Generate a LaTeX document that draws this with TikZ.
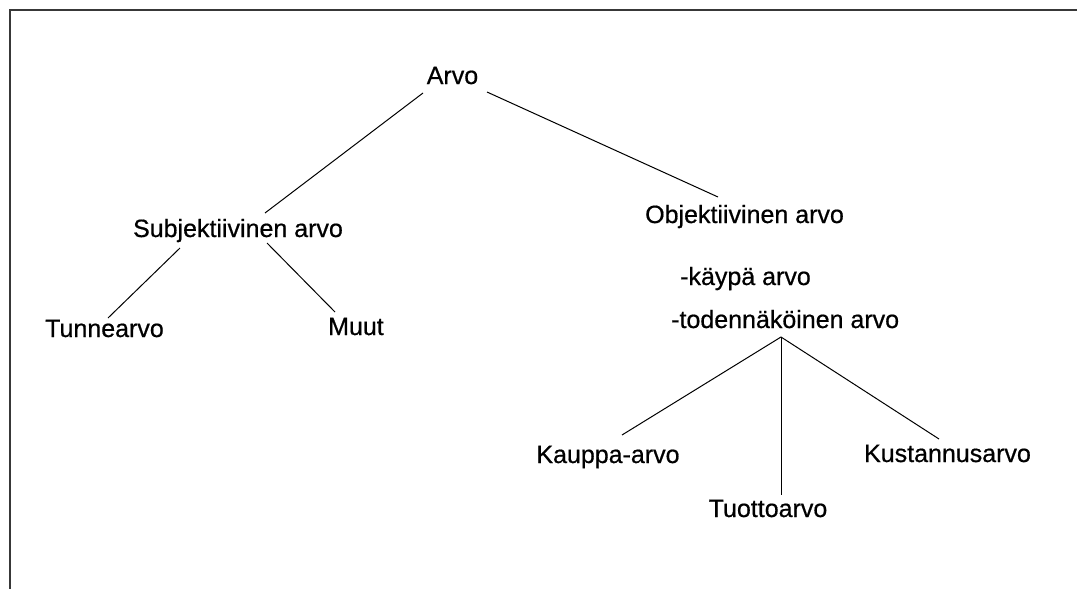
\documentclass[tikz,border=0pt]{standalone}
\usepackage{fontspec}
\setmainfont{Liberation Sans}
\newfontfamily\labelfont{Liberation Sans}[FakeBold=0.6]
\begin{document}
\begin{tikzpicture}[x=1pt,y=-1pt,
  lbl/.style={inner sep=0pt,font=\labelfont\fontsize{25}{30}\selectfont,text=black},
  edge/.style={draw=black,line width=1pt},
  frame/.style={draw=black!78,line width=2pt}]
\useasboundingbox (0,0) rectangle (1077,589);
% open frame: top and left edges only
\draw[frame] (1077,9.5) -- (10,9.5) -- (10,589);

% labels
\node[lbl,anchor=base] (arvo) at (452.5,84) {Arvo};
\node[lbl,anchor=base] (subj) at (238,237) {Subjektiivinen arvo};
\node[lbl,anchor=base west] (tunne) at (45,337) {Tunnearvo};
\node[lbl,anchor=base west] (muut) at (328,335) {Muut};
\node[lbl,anchor=base west] (obj) at (645,223) {Objektiivinen arvo};
\node[lbl,anchor=base west] (kaypa) at (680,285) {-käypä arvo};
\node[lbl,anchor=base west] (toden) at (671,328) {-todennäköinen arvo};
\node[lbl,anchor=base] (kauppa) at (608,463) {Kauppa-arvo};
\node[lbl,anchor=base] (tuotto) at (768,517) {Tuottoarvo};
\node[lbl,anchor=base] (kust) at (947.5,462) {Kustannusarvo};

% attachment points of the branches
\coordinate (arvo-l) at (423,93);
\coordinate (arvo-r) at (487,92);
\coordinate (subj-t) at (265,213);
\coordinate (obj-t) at (718,197);
\coordinate (subj-l) at (180,248);
\coordinate (subj-r) at (267,243);
\coordinate (tunne-t) at (108,318);
\coordinate (muut-t) at (335,312);
\coordinate (toden-b) at (781,337);
\coordinate (kauppa-t) at (622,435);
\coordinate (tuotto-t) at (781,495);
\coordinate (kust-t) at (939,439);

% branches
\draw[edge] (arvo-l) -- (subj-t);
\draw[edge] (arvo-r) -- (obj-t);
\draw[edge] (subj-l) -- (tunne-t);
\draw[edge] (subj-r) -- (muut-t);
\draw[edge] (toden-b) -- (kauppa-t);
\draw[edge] (toden-b) -- (tuotto-t);
\draw[edge] (toden-b) -- (kust-t);
\end{tikzpicture}
\end{document}
